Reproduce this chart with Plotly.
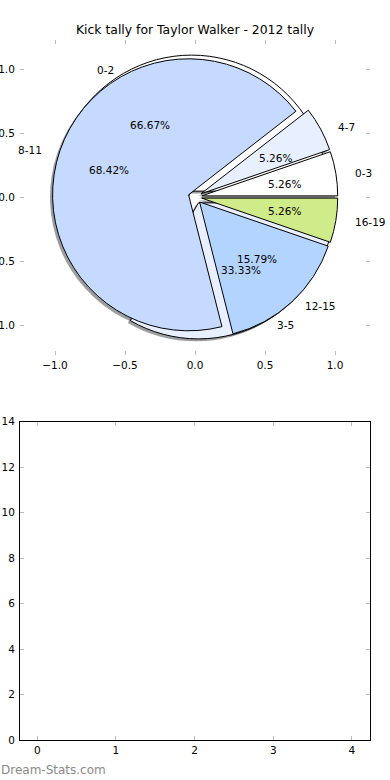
import numpy as np
import plotly.graph_objects as go

# ---------------- data ----------------
TITLE = "Kick tally for Taylor Walker - 2012 tally"
inner_labels = ["0-2", "3-5"]
inner_values = [2, 1]
inner_colors = ["#ffffff", "#e8f0ff"]
outer_labels = ["0-3", "4-7", "8-11", "12-15", "16-19"]
outer_values = [1, 1, 13, 3, 1]
outer_colors = ["#ffffff", "#e8f0ff", "#c6d9ff", "#b3d4ff", "#d0eb8a"]
pie_ticks = [-1.0, -0.5, 0.0, 0.5, 1.0]
lower_xticks = [0, 1, 2, 3, 4]
lower_yticks = [0, 2, 4, 6, 8, 10, 12, 14]
WATERMARK = "Dream-Stats.com"

# ---------------- layout constants ----------------
W, H = 390, 780
ML, MR, MT, MB = 20, 20, 40, 40
PW, PH = W - ML - MR, H - MT - MB
EXPLODE = 0.05
R = 136          # pie radius in px
CX, CY = 195, 197  # pie centre in px
FONT = "DejaVu Sans"
TICKCOL = "#bbbbbb"


def pie_domain(dx=0.0, dy=0.0):
    half = R * (1 + EXPLODE)
    cx = (CX + dx - ML) / PW
    cy = (H - MB - (CY + dy)) / PH
    return dict(x=[cx - half / PW, cx + half / PW], y=[cy - half / PH, cy + half / PH])


def make_pie(labels, values, colors, domain, shadow=False):
    # matplotlib draws counter-clockwise from 3 o'clock; plotly equivalent:
    # reversed order, clockwise, starting at 3 o'clock
    labs = list(labels)[::-1]
    vals = list(values)[::-1]
    cols = list(colors)[::-1]
    if shadow:
        cols = ["rgba(60,62,66,0.5)"] * len(vals)
        line = dict(color="rgba(0,0,0,0)", width=0)
    else:
        line = dict(color="black", width=1)
    return go.Pie(
        labels=labs, values=vals, sort=False, direction="clockwise", rotation=90,
        pull=[EXPLODE] * len(vals), textinfo="none", hoverinfo="skip",
        marker=dict(colors=cols, line=line), domain=domain, showlegend=False,
    )


def wedge_text(labels, values):
    v = np.asarray(values, float)
    frac = v / v.sum()
    ends = np.cumsum(frac)
    starts = ends - frac
    mid = np.pi * (starts + ends)
    ox, oy = EXPLODE * np.cos(mid), EXPLODE * np.sin(mid)
    anns = []
    for i, lab in enumerate(labels):
        lx, ly = ox[i] + 1.1 * np.cos(mid[i]), oy[i] + 1.1 * np.sin(mid[i])
        px, py = ox[i] + 0.6 * np.cos(mid[i]), oy[i] + 0.6 * np.sin(mid[i])
        anns.append(dict(x=lx, y=ly, xref="x", yref="y", text=lab, showarrow=False,
                         xanchor="left" if lx > 0 else "right", yanchor="middle",
                         font=dict(family=FONT, size=10.5, color="black"), borderpad=0))
        anns.append(dict(x=px, y=py, xref="x", yref="y", text=f"{100 * frac[i]:.2f}%",
                         showarrow=False, xanchor="center", yanchor="middle",
                         font=dict(family=FONT, size=10.5, color="black"), borderpad=0))
    return anns


SDX, SDY = -2.6, 2.4  # shadow offset (left / down) in px

fig = go.Figure()
fig.add_trace(make_pie(inner_labels, inner_values, inner_colors, pie_domain(SDX, SDY), shadow=True))
fig.add_trace(make_pie(outer_labels, outer_values, outer_colors, pie_domain(SDX, SDY), shadow=True))
fig.add_trace(make_pie(inner_labels, inner_values, inner_colors, pie_domain()))
fig.add_trace(make_pie(outer_labels, outer_values, outer_colors, pie_domain()))
# empty traces so both cartesian subplots exist
fig.add_trace(go.Scatter(x=[], y=[], xaxis="x", yaxis="y", showlegend=False))
fig.add_trace(go.Scatter(x=[], y=[], xaxis="x2", yaxis="y2", showlegend=False))

annotations = wedge_text(inner_labels, inner_values) + wedge_text(outer_labels, outer_values)
annotations.append(dict(x=-ML / PW, y=-30 / PH, xref="paper", yref="paper", text=WATERMARK,
                        showarrow=False, xanchor="left", yanchor="middle", borderpad=0,
                        font=dict(family=FONT, size=12, color="#8a8a8a")))

tickfont = dict(family=FONT, size=10.5, color="black")
common = dict(ticks="inside", ticklen=4, tickwidth=1, tickcolor=TICKCOL, showgrid=False,
              zeroline=False, tickfont=tickfont, fixedrange=True)

fig.update_layout(
    width=W, height=H, margin=dict(l=ML, r=MR, t=MT, b=MB, autoexpand=False),
    paper_bgcolor="white", plot_bgcolor="white", showlegend=False,
    title=dict(text=TITLE, x=0.5, xanchor="center", y=1 - 30 / H, yanchor="middle",
               font=dict(family=FONT, size=12.4, color="black")),
    xaxis=dict(domain=[0, 1], range=[-1.25, 1.25], anchor="y", tickvals=pie_ticks,
               tickformat=".1f", showline=True, linecolor="rgba(0,0,0,0)", mirror="ticks", **common),
    yaxis=dict(domain=[(H - MB - 355) / PH, 1], range=[-1.23, 1.23], anchor="x", tickvals=pie_ticks,
               tickformat=".1f", showline=True, linecolor="rgba(0,0,0,0)", mirror="ticks",
               ticklabelstandoff=2, **common),
    xaxis2=dict(domain=[0, 1], range=[-0.22, 4.23], anchor="y2", tickvals=lower_xticks,
                showline=True, linecolor="black", linewidth=1, mirror="ticks", **common),
    yaxis2=dict(domain=[0, (H - MB - 421.7) / PH], range=[0, 14], anchor="x2", tickvals=lower_yticks,
                showline=True, linecolor="black", linewidth=1, mirror="ticks",
                ticklabelstandoff=2, **common),
    annotations=annotations,
)

fig.write_html("out.html", config={"displayModeBar": False},
               post_script="document.body.style.margin='0';")
